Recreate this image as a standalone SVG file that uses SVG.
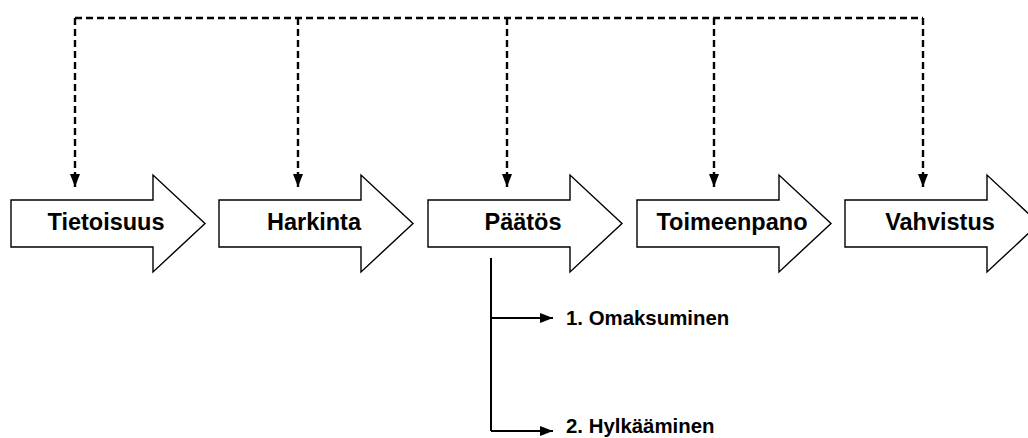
<svg xmlns="http://www.w3.org/2000/svg" width="1028" height="438" viewBox="0 0 1028 438">
<defs>
<style>
.blk{fill:#fff;stroke:#000;stroke-width:1.4;stroke-linejoin:miter}
.lbl{font-family:"Liberation Sans",Arial,sans-serif;font-weight:bold;font-size:23.5px;fill:#000;text-anchor:middle}
.sub{font-family:"Liberation Sans",Arial,sans-serif;font-weight:bold;font-size:20.4px;fill:#000}
.dash{fill:none;stroke:#000;stroke-width:2.4;stroke-dasharray:7 4}
.solid{fill:none;stroke:#000;stroke-width:2}
</style>
<marker id="ah" markerWidth="10" markerHeight="14" refX="5" refY="13" orient="0" markerUnits="userSpaceOnUse">
<path d="M0,0 L10,0 L5,13 Z" fill="#000"/>
</marker>
<marker id="ar" markerWidth="14" markerHeight="10" refX="13" refY="5" orient="0" markerUnits="userSpaceOnUse">
<path d="M0,0 L13,5 L0,10 Z" fill="#000"/>
</marker>
</defs>
<g id="connectors">
<path class="dash" d="M75,18 H923"/>
<path class="dash" d="M75,18 V187" marker-end="url(#ah)"/>
<path class="dash" d="M298,18 V187" marker-end="url(#ah)"/>
<path class="dash" d="M507,18 V187" marker-end="url(#ah)"/>
<path class="dash" d="M714,18 V187" marker-end="url(#ah)"/>
<path class="dash" d="M923,18 V187" marker-end="url(#ah)"/>
<path class="solid" d="M491,258 V431"/>
<path class="solid" d="M491,318 H553" marker-end="url(#ar)"/>
<path class="solid" d="M491,431 H553" marker-end="url(#ar)"/>
</g>
<g id="tietoisuus">
<path class="blk" d="M11,200 H153 V175 L205,223.5 L153,272 V247 H11 Z"/>
<text class="lbl" x="106" y="230">Tietoisuus</text>
</g>
<g id="harkinta">
<path class="blk" d="M219,200 H361 V175 L413,223.5 L361,272 V247 H219 Z"/>
<text class="lbl" x="314" y="230">Harkinta</text>
</g>
<g id="paatos">
<path class="blk" d="M428,200 H570 V175 L622,223.5 L570,272 V247 H428 Z"/>
<text class="lbl" x="523" y="230">Päätös</text>
</g>
<g id="toimeenpano">
<path class="blk" d="M637,200 H779 V175 L831,223.5 L779,272 V247 H637 Z"/>
<text class="lbl" x="732" y="230">Toimeenpano</text>
</g>
<g id="vahvistus">
<path class="blk" d="M845,200 H987 V175 L1039,223.5 L987,272 V247 H845 Z"/>
<text class="lbl" x="940" y="230">Vahvistus</text>
</g>
<g id="omaksuminen">
<text class="sub" x="566" y="325">1. Omaksuminen</text>
</g>
<g id="hylkaaminen">
<text class="sub" x="566" y="433">2. Hylkääminen</text>
</g>
</svg>
